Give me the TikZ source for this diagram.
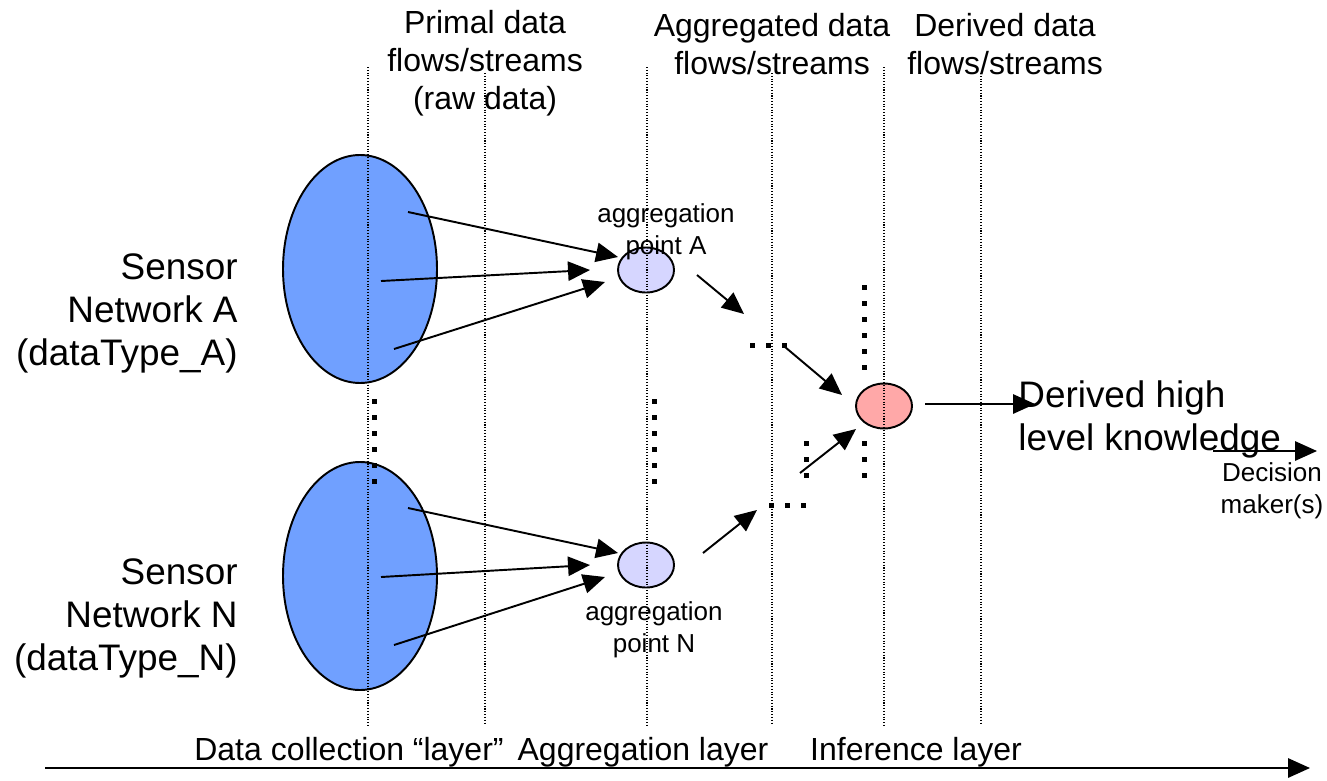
\documentclass[tikz,border=0pt]{standalone}
\usepackage{fontspec}
\setmainfont{Liberation Sans}
\usepackage{xcolor}
\usepackage{tikz}
\usetikzlibrary{shapes.geometric}
\usetikzlibrary{arrows.meta}

\definecolor{netblue}{RGB}{112,160,255}
\definecolor{aggfill}{RGB}{214,214,255}
\definecolor{inffill}{RGB}{255,168,168}

\newcommand{\lblbig}{\fontsize{21}{24.5}\selectfont}
\newcommand{\lblmid}{\fontsize{18.2}{21.6}\selectfont}
\newcommand{\lblsmall}{\fontsize{14.8}{18}\selectfont}

\tikzset{
  sensornet/.style={ellipse, draw, line width=1.1pt, fill=netblue, minimum width=30.8mm, minimum height=45.6mm, inner sep=0pt},
  aggpt/.style={ellipse, draw, line width=1.1pt, fill=aggfill, minimum width=11.2mm, minimum height=9mm, inner sep=0pt},
  infpt/.style={ellipse, draw, line width=1.1pt, fill=inffill, minimum width=11.2mm, minimum height=9mm, inner sep=0pt},
  flow/.style={line width=1.1pt, -{Triangle[length=12.5pt,width=11pt]}},
  layerline/.style={densely dotted, line width=0.6pt},
  txt/.style={inner sep=0pt, text=black}
}

\begin{document}
\begin{tikzpicture}[x=0.2mm,y=-0.2mm]
        \useasboundingbox (0,0) rectangle (1327,780);
        %KOORDINAT
        \coordinate (a1s) at (408,212);  \coordinate (a1e) at (618,257);
        \coordinate (a2s) at (381,281);  \coordinate (a2e) at (590,270);
        \coordinate (a3s) at (394,349);  \coordinate (a3e) at (605,282);
        \coordinate (n1s) at (408,508);  \coordinate (n1e) at (618,553);
        \coordinate (n2s) at (381,577);  \coordinate (n2e) at (590,565);
        \coordinate (n3s) at (394,645);  \coordinate (n3e) at (605,577);
        \coordinate (aggAout) at (697,275); \coordinate (dotsAin) at (744,314);
        \coordinate (dotsAout) at (785,347); \coordinate (infinA) at (842,395);
        \coordinate (aggNout) at (703,553); \coordinate (dotsNin) at (757,510);
        \coordinate (dotsNout) at (800,473); \coordinate (infinN) at (856,429);
        \coordinate (infout) at (925,404); \coordinate (dhlin) at (1035,404);
        \coordinate (dmout) at (1213,451); \coordinate (dmin) at (1317,451);
        \coordinate (axs) at (45,768); \coordinate (axe) at (1310,768);
        %ELLIPS
        \node[sensornet] (netA) at (360,269) {};
        \node[sensornet] (netN) at (360,576) {};
        \node[aggpt] (aggA) at (646,270) {};
        \node[aggpt] (aggN) at (646,565) {};
        \node[infpt] (inf) at (884,406) {};
        %GARIS LAYER
        \foreach \x/\t in {368/67, 485/73, 647/67, 772/73, 884/67, 981/73}
          \draw[layerline] (\x,\t) -- (\x,725);
        %TITIK
        \foreach \y in {401,417,...,481}
        {
          \fill (371.5,\y-2.5) rectangle ++(5,5);
          \fill (651.5,\y-2.5) rectangle ++(5,5);
        }
        \foreach \y in {287,303,...,367}
          \fill (861.5,\y-2.5) rectangle ++(5,5);
        \foreach \y in {443,459,475}
        {
          \fill (861.5,\y-2.5) rectangle ++(5,5);
          \fill (803.5,\y-2.5) rectangle ++(5,5);
        }
        \foreach \x in {752,768,784}
          \fill (\x-2.5,342.5) rectangle ++(5,5);
        \foreach \x in {771,787,803}
          \fill (\x-2.5,502.5) rectangle ++(5,5);
        %PANAH
        \draw[flow] (a1s) -- (a1e);
        \draw[flow] (a2s) -- (a2e);
        \draw[flow] (a3s) -- (a3e);
        \draw[flow] (n1s) -- (n1e);
        \draw[flow] (n2s) -- (n2e);
        \draw[flow] (n3s) -- (n3e);
        \draw[flow] (aggAout) -- (dotsAin);
        \draw[flow] (dotsAout) -- (infinA);
        \draw[flow] (aggNout) -- (dotsNin);
        \draw[flow] (dotsNout) -- (infinN);
        \draw[flow] (infout) -- (dhlin);
        \draw[flow] (dmout) -- (dmin);
        \draw[flow] (axs) -- (axe);
        %LABEL
        \node[txt, font=\lblbig, anchor=east, align=right] (lblA) at (238,313) {Sensor\\Network A\\(dataType\_A)};
        \node[txt, font=\lblbig, anchor=east, align=right] (lblN) at (238,618) {Sensor\\Network N\\(dataType\_N)};
        \node[txt, font=\lblmid, align=center] (lblprimal) at (485,63) {Primal data\\flows/streams\\(raw data)};
        \node[txt, font=\lblmid, align=center] (lblaggd) at (772,44) {Aggregated data\\flows/streams};
        \node[txt, font=\lblmid, align=center] (lblderd) at (1005,44) {Derived data\\flows/streams};
        \node[txt, font=\lblsmall, align=center] (lblaggA) at (666,232) {aggregation\\point A};
        \node[txt, font=\lblsmall, align=center] (lblaggN) at (654,630) {aggregation\\point N};
        \node[txt, font=\lblbig, anchor=west, align=left] (lbldhl) at (1018,419) {Derived high\\level knowledge};
        \node[txt, font=\lblsmall, align=center] (lbldm) at (1272,491) {Decision\\maker(s)};
        \node[txt, font=\lblmid] (lyrdc) at (349,752) {Data collection “layer”};
        \node[txt, font=\lblmid] (lyrag) at (643,752) {Aggregation layer};
        \node[txt, font=\lblmid] (lyrin) at (916,752) {Inference layer};
\end{tikzpicture}
\end{document}
